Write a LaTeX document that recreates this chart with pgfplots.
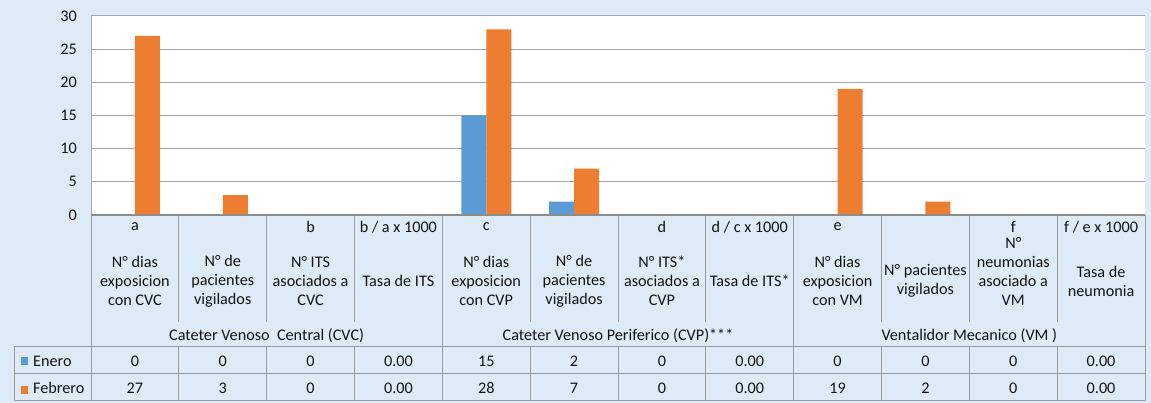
\documentclass[border=0pt]{standalone}
\usepackage{fontspec}
\setmainfont{Carlito}
\usepackage{pgfplots}
\usepackage{pgfplotstable}
\pgfplotsset{compat=1.18}
\definecolor{bgc}{RGB}{222,234,246}
\definecolor{eneroc}{RGB}{91,155,213}
\definecolor{febc}{RGB}{237,125,49}
\definecolor{gridc}{RGB}{166,166,166}
\definecolor{linec}{RGB}{155,155,155}
\definecolor{basec}{RGB}{140,140,140}
\definecolor{txt}{RGB}{20,20,20}

\pgfplotstableread{
x enero febrero
0 0 27
1 0 3
2 0 0
3 0 0
4 15 28
5 2 7
6 0 0
7 0 0
8 0 19
9 0 2
10 0 0
11 0 0
}\datatab

\newcommand{\cx}[1]{{91+87.833*(#1+0.5)}}
\newcommand{\hdr}[3]{%
  \node[inner sep=0pt] at (\cx{#1},176) {#2};
  \node[align=center, inner sep=0pt] at (\cx{#1},122) {#3};}
\newcommand{\val}[3]{%
  \node[inner sep=0pt] at (\cx{#1},42) {#2};
  \node[inner sep=0pt] at (\cx{#1},15) {#3};}

\begin{document}
\begin{tikzpicture}[x=1pt,y=1pt, font=\fontsize{16.2}{19}\selectfont, every node/.append style={text=txt}]
\fill[bgc] (0,0) rectangle (1151,403);
\begin{axis}[
  at={(91pt,188pt)}, anchor=south west,
  scale only axis, width=1054pt, height=199pt,
  xmin=-0.5, xmax=11.5, ymin=0, ymax=30,
  ytick={0,5,...,30}, xtick=\empty,
  axis x line=none, axis y line*=left,
  axis line style={draw=gridc, line width=1pt},
  ymajorgrids, grid style={draw=gridc, line width=1pt},
  axis background/.style={fill=white},
  ybar=0pt, bar width=25pt,
  major tick length=0pt,
  yticklabel style={inner sep=0pt, xshift=-14pt, text=txt, font=\fontsize{16.2}{19}\selectfont},
  /pgf/number format/assume math mode=true,
]
\addplot[fill=eneroc, draw=none] table[x=x, y=enero]{\datatab};
\addplot[fill=febc, draw=none] table[x=x, y=febrero]{\datatab};
\end{axis}
% table lines
\draw[linec, line width=1pt] (14,56) -- (1145,56) (14,29) -- (1145,29) (14,2) -- (1145,2) (14,56) -- (14,2);
\foreach \k in {0,4,8,12} { \draw[linec, line width=1pt] ({91+87.833*\k},188) -- ({91+87.833*\k},2); }
\foreach \k in {1,2,3,5,6,7,9,10,11} {
  \draw[linec, line width=1pt] ({91+87.833*\k},188) -- ({91+87.833*\k},81);
  \draw[linec, line width=1pt] ({91+87.833*\k},56) -- ({91+87.833*\k},2);
}
\draw[basec, line width=1.6pt] (91,188) -- (1145,188);
% header
\hdr{0}{a}{N° dias\\exposicion\\con CVC}
\hdr{1}{}{N° de\\pacientes\\vigilados}
\hdr{2}{b}{N° ITS\\asociados a\\CVC}
\hdr{3}{b / a x 1000}{Tasa de ITS}
\hdr{4}{c}{N° dias\\exposicion\\con CVP}
\hdr{5}{}{N° de\\pacientes\\vigilados}
\hdr{6}{d}{N° ITS*\\asociados a\\CVP}
\hdr{7}{d / c x 1000}{Tasa de ITS*}
\hdr{8}{e}{N° dias\\exposicion\\con VM}
\hdr{9}{}{N° pacientes\\vigilados}
\node[inner sep=0pt] at (\cx{10},176) {f};
\node[align=center, inner sep=0pt] at (\cx{10},131.5) {N°\\neumonias\\asociado a\\VM};
\hdr{11}{f / e x 1000}{Tasa de\\neumonia}
% groups
\node[inner sep=0pt] at ({91+87.833*2},67) {Cateter Venoso\ \ Central (CVC)};
\node[inner sep=0pt] at ({91+87.833*6},67) {Cateter Venoso Periferico (CVP)***};
\node[inner sep=0pt] at ({91+87.833*10},67) {Ventalidor Mecanico (VM )};
% legend column
\fill[eneroc] (20.5,45.5) rectangle (27.5,38);
\fill[febc] (20.5,16.5) rectangle (27.5,9);
\node[anchor=west, inner sep=0pt] at (33,42) {Enero};
\node[anchor=west, inner sep=0pt] at (33,15) {Febrero};
% values
\val{0}{0}{27}
\val{1}{0}{3}
\val{2}{0}{0}
\val{3}{0.00}{0.00}
\val{4}{15}{28}
\val{5}{2}{7}
\val{6}{0}{0}
\val{7}{0.00}{0.00}
\val{8}{0}{19}
\val{9}{0}{2}
\val{10}{0}{0}
\val{11}{0.00}{0.00}
\end{tikzpicture}
\end{document}
